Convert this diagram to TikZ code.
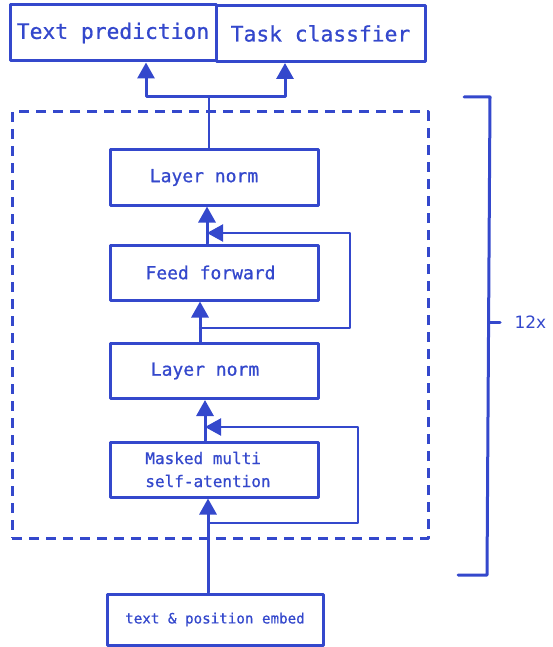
\documentclass[tikz,border=0pt]{standalone}
\usepackage{fontspec}
\setmonofont[FakeBold=0.8]{DejaVu Sans Mono}
\setmainfont{DejaVu Sans}
\usetikzlibrary{arrows.meta,calc}
\definecolor{ink}{RGB}{52,72,204}
\begin{document}
\begin{tikzpicture}[x=1pt,y=-1pt,
  line width=3pt, draw=ink, text=ink, line join=round, line cap=round,
  blk/.style={draw, rectangle, minimum width=208pt, minimum height=55pt, inner sep=0pt, font=\ttfamily\fontsize{18}{22}\selectfont},
  topblk/.style={draw, rectangle, minimum height=56pt, inner sep=0pt, font=\ttfamily\fontsize{21.3}{25}\selectfont},
  arr/.style={-{Triangle[length=16pt,width=17pt]}},
  dashbox/.style={draw, dash pattern=on 10pt off 7pt, line cap=butt, minimum width=416pt, minimum height=426pt, inner sep=0pt}]
\useasboundingbox (0,0) rectangle (553,647);

% top output boxes
\node[topblk, minimum width=206pt] (tp) at (113,33) {Text prediction};
\node[topblk, minimum width=209pt] (tc) at (320.5,33.5) {Task classfier};

% dashed repeated block
\node[dashbox] (loop) at (220,325) {};

% blocks
\node[blk] (ln1) at (214,177.5) {\hspace*{-20pt}Layer norm};
\node[blk] (ff) at (214,272.5) {\hspace*{-7pt}Feed forward};
\node[blk] (ln2) at (214,371) {\hspace*{-18pt}Layer norm};
\node[blk, align=left, font=\ttfamily\fontsize{16}{23}\selectfont] (mh) at (214,469.5) {\hspace*{-12pt}Masked multi\\\hspace*{-12pt}self-atention};
\node[blk, minimum width=216pt, minimum height=51pt, font=\ttfamily\fontsize{14.2}{17}\selectfont] (emb) at (215,619.5) {text \& position embed};

% helper x positions
\coordinate (J) at (209,97);
\coordinate (L) at (146,97);
\coordinate (R) at (285,97);
\coordinate (x207) at (207,0);
\coordinate (x200) at (200,0);
\coordinate (x205) at (205,0);
\coordinate (x208) at (208,0);

% output split
\draw[line width=2.2pt] (ln1.north -| J) -- (J);
\draw[arr] (J) -- (L) -- (L |- tp.south);
\draw[arr] (J) -- (R) -- (R |- tc.south);

% main flow
\draw[arr] (ff.north -| x207) -- (ln1.south -| x207);
\draw[arr] (ln2.north -| x200) -- (ff.south -| x200);
\draw[arr] (mh.north -| x205) -- (ln2.south -| x205);
\draw[arr] (emb.north -| x208) -- (mh.south -| x208);

% residual connections
\coordinate (r1s) at (200,328);
\coordinate (r1x) at (350,0);
\coordinate (r1e) at (207,233);
\draw[arr, line width=2.2pt] (r1s) -| (r1x |- r1e) -- (r1e);
\coordinate (r2s) at (209,523);
\coordinate (r2x) at (358,0);
\coordinate (r2e) at (205,427);
\draw[arr, line width=2.2pt] (r2s) -| (r2x |- r2e) -- (r2e);

% repetition bracket
\coordinate (bt) at (464,97);
\coordinate (bb) at (458,575);
\coordinate (tk) at (489,322);
\draw (bt) -- (490,97) -- (487,575) -- (bb);
\draw (tk) -- (500,322);
\node[font=\fontsize{17}{19}\selectfont, anchor=west, inner sep=0pt] (rep) at (513,322) {12x};
\end{tikzpicture}
\end{document}
